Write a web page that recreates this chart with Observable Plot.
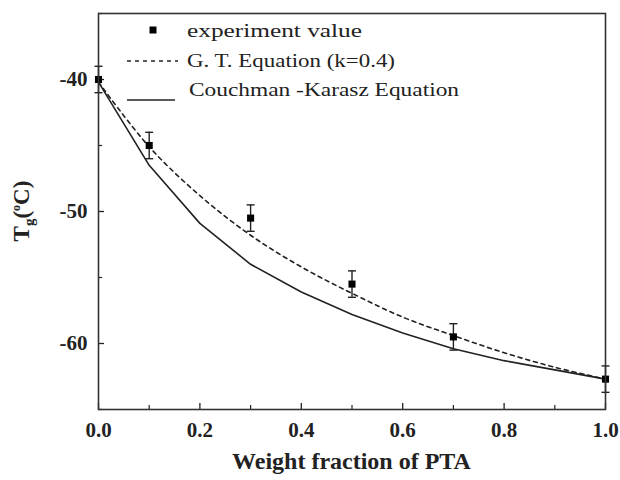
<!DOCTYPE html>
<html>
<head>
<meta charset="utf-8">
<script src="https://cdn.jsdelivr.net/npm/d3@7"></script>
<script src="https://cdn.jsdelivr.net/npm/@observablehq/plot@0.6"></script>
<style>
  html, body { margin: 0; padding: 0; background: #fff; }
  #chart svg { display: block; }
</style>
</head>
<body>
<div id="chart"></div>
<script>
// Glass transition temperature vs. PTA weight fraction
const xTicks = [0, 0.2, 0.4, 0.6, 0.8, 1.0];
const xMinorTicks = [0.1, 0.3, 0.5, 0.7, 0.9];
const yTicks = [-60, -50, -40];
const yMinorTicks = [-65, -55, -45, -35];

// measured Tg with error bars
const expFrac = [0, 0.1, 0.3, 0.5, 0.7, 1.0];
const expTg = [-40, -45, -50.5, -55.5, -59.5, -62.7];
const expErr = [1, 1, 1, 1, 1, 1];

// model curves
const curveFrac = [0, 0.1, 0.2, 0.3, 0.4, 0.5, 0.6, 0.7, 0.8, 0.9, 1.0];
const gtTg = [-40.2, -45.1, -48.8, -51.8, -54.2, -56.2, -58.0, -59.4, -60.7, -61.8, -62.7];
const ckTg = [-40.2, -46.5, -50.9, -54.0, -56.1, -57.8, -59.2, -60.4, -61.3, -62.0, -62.7];

const legendLabels = ["experiment value", "G. T. Equation (k=0.4)", "Couchman -Karasz Equation"];

const points = expFrac.map((x, i) => ({x, y: expTg[i], lo: expTg[i] - expErr[i], hi: expTg[i] + expErr[i]}));
const gt = curveFrac.map((x, i) => ({x, y: gtTg[i]}));
const ck = curveFrac.map((x, i) => ({x, y: ckTg[i]}));

// horizontal cap for error bars
const capSymbol = {
  draw(context, size) {
    const w = Math.sqrt(size) / 2;
    context.moveTo(-w, 0);
    context.lineTo(w, 0);
  }
};

const ink = "#222";
const serif = "Liberation Serif";

const chart = Plot.plot({
  width: 620,
  height: 480,
  marginLeft: 98,
  marginRight: 15,
  marginTop: 13,
  marginBottom: 71,
  style: {fontFamily: serif, color: ink, background: "#fff"},
  x: {domain: [0, 1]},
  y: {domain: [-65, -35]},
  marks: [
    Plot.axisX({ticks: xTicks, tickSize: -6, tickPadding: 19, tickFormat: d => d.toFixed(1),
      fontSize: 21, fontWeight: "bold", label: null, strokeWidth: 1.3}),
    Plot.axisX({ticks: xMinorTicks, tickSize: -4, text: null, label: null, strokeWidth: 1.2}),
    Plot.axisY({ticks: yTicks, tickSize: -6, tickPadding: 17, tickFormat: d => String(d),
      fontSize: 21, fontWeight: "bold", label: null, strokeWidth: 1.3}),
    Plot.axisY({ticks: yMinorTicks, tickSize: -4, text: null, label: null, strokeWidth: 1.2}),
    Plot.line(ck, {x: "x", y: "y", stroke: ink, strokeWidth: 1.6}),
    Plot.line(gt, {x: "x", y: "y", stroke: ink, strokeWidth: 1.6, strokeDasharray: "4,4", curve: "catmull-rom"}),
    Plot.ruleX(points, {x: "x", y1: "lo", y2: "hi", stroke: ink, strokeWidth: 1.4}),
    Plot.dot(points, {x: "x", y: "lo", symbol: capSymbol, r: 4.5, stroke: ink, strokeWidth: 1.4}),
    Plot.dot(points, {x: "x", y: "hi", symbol: capSymbol, r: 4.5, stroke: ink, strokeWidth: 1.4}),
    Plot.dot(points, {x: "x", y: "y", symbol: "square", r: 4, fill: "#000", stroke: null}),
    Plot.frame({stroke: "#333", strokeWidth: 1.6})
  ]
});

document.getElementById("chart").appendChild(chart);

const svg = d3.select(chart);

// legend inside the plot area
const lg = svg.append("g").attr("fill", ink).attr("stroke", "none");
const rows = [30, 60, 89];
const widths = [175, 208, 270];
lg.append("rect").attr("x", 149.5).attr("y", rows[0] - 3.5).attr("width", 7).attr("height", 7).attr("fill", "#000");
lg.append("line").attr("x1", 127).attr("x2", 178).attr("y1", 61).attr("y2", 61)
  .attr("stroke", ink).attr("stroke-width", 1.6).attr("stroke-dasharray", "4,4");
lg.append("line").attr("x1", 127).attr("x2", 175).attr("y1", 100).attr("y2", 100)
  .attr("stroke", ink).attr("stroke-width", 1.6);
legendLabels.forEach((t, i) => {
  lg.append("text").attr("x", i === 2 ? 189 : 187).attr("y", rows[i]).attr("dy", "0.35em")
    .attr("text-anchor", "start")
    .attr("textLength", widths[i]).attr("lengthAdjust", "spacingAndGlyphs")
    .attr("font-family", serif).attr("font-size", 19).text(t);
});

// axis titles
svg.append("text")
  .attr("x", 98 + 507 / 2).attr("y", 461)
  .attr("text-anchor", "middle").attr("dy", "0.35em")
  .attr("font-family", serif).attr("font-size", 24).attr("font-weight", "bold")
  .attr("fill", ink).text("Weight fraction of PTA");

const yl = svg.append("text")
  .attr("transform", "translate(29,211) rotate(-90)")
  .attr("text-anchor", "middle")
  .attr("font-family", serif).attr("font-size", 23).attr("font-weight", "bold")
  .attr("fill", ink);
yl.append("tspan").text("T");
yl.append("tspan").attr("font-size", 15).attr("dy", 5).text("g");
yl.append("tspan").attr("dy", -5).text("(");
yl.append("tspan").attr("font-size", 12).attr("dy", -9).text("o");
yl.append("tspan").attr("dy", 9).text("C)");
</script>
</body>
</html>
